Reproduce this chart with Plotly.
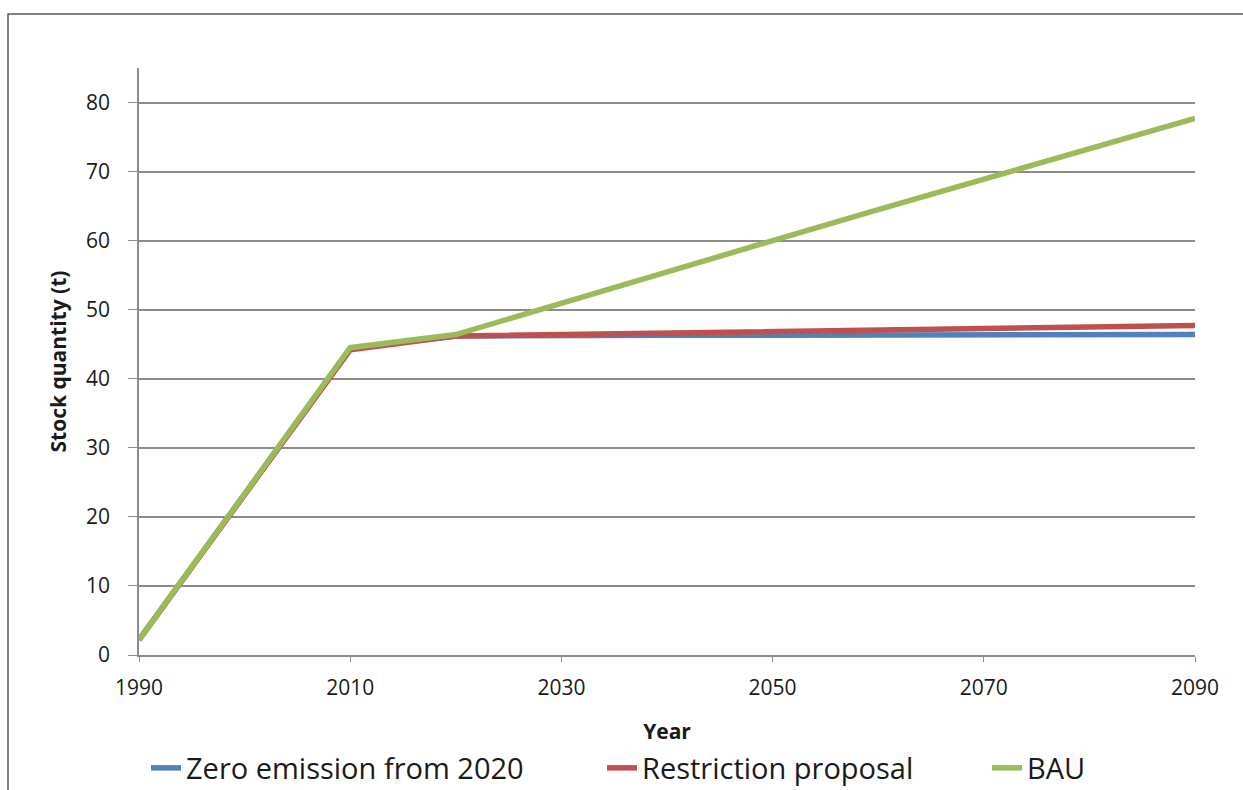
import plotly.graph_objects as go

years = [1990, 2000, 2010, 2020, 2030, 2040, 2050, 2060, 2070, 2080, 2090]
zero_emission = [2.2, 23.3, 44.4, 46.2, 46.3, 46.3, 46.3, 46.3, 46.4, 46.4, 46.4]
restriction = [2.2, 23.2, 44.2, 46.2, 46.4, 46.6, 46.8, 47.0, 47.2, 47.4, 47.7]
bau = [2.2, 23.3, 44.5, 46.4, 51.0, 55.5, 60.0, 64.5, 68.9, 73.3, 77.7]

series_names = ["Zero emission from 2020", "Restriction proposal", "BAU"]
colors = ["#4F81BD", "#C0504D", "#9BBB59"]
x_ticks = [1990, 2010, 2030, 2050, 2070, 2090]
y_ticks = [0, 10, 20, 30, 40, 50, 60, 70, 80]

W, H = 1243, 790
L, R, T, B = 139, 48, 68, 135
pw, ph = W - L - R, H - T - B

def px_to_paper_x(px):
    return (px - L) / pw

def px_to_paper_y(py):
    return (H - B - py) / ph

legend_widths = [411, 340, 100]

fig = go.Figure()
for name, vals, col, lw in zip(series_names, [zero_emission, restriction, bau], colors, legend_widths):
    fig.add_trace(go.Scatter(x=years, y=vals, mode="lines", name=name,
                             line=dict(color=col, width=5.5), legendwidth=lw))

font_family = "Open Sans, Liberation Sans, sans-serif"

fig.update_layout(
    width=W, height=H,
    margin=dict(l=L, r=R, t=T, b=B, autoexpand=False),
    paper_bgcolor="white", plot_bgcolor="white",
    font=dict(family=font_family, color="#1a1a1a", size=21),
    xaxis=dict(range=[1990, 2090], tickvals=x_ticks, showgrid=False,
               showline=True, linecolor="#8c8c8c", linewidth=1.5,
               ticks="outside", ticklen=5, tickcolor="#8c8c8c",
               tickfont=dict(size=21), ticklabelstandoff=8,
               title=dict(text="<b>Year</b>", font=dict(size=21), standoff=24),
               zeroline=False),
    yaxis=dict(range=[0, 85], tickvals=y_ticks, showgrid=True,
               gridcolor="#8c8c8c", gridwidth=1.5,
               showline=True, linecolor="#8c8c8c", linewidth=1.5,
               ticks="outside", ticklen=9, tickcolor="#8c8c8c",
               tickfont=dict(size=21), ticklabelstandoff=14,
               title=dict(text="<b>Stock quantity (t)</b>", font=dict(size=21), standoff=14),
               zeroline=False),
    legend=dict(orientation="h", x=px_to_paper_x(146), xanchor="left",
                y=px_to_paper_y(768), yanchor="middle",
                font=dict(size=29), bgcolor="rgba(0,0,0,0)", tracegroupgap=0),
    showlegend=True,
)

fig.add_shape(type="rect", xref="paper", yref="paper",
              x0=px_to_paper_x(8), x1=px_to_paper_x(1300),
              y0=px_to_paper_y(850), y1=px_to_paper_y(14),
              line=dict(color="#595959", width=1.5), fillcolor="rgba(0,0,0,0)",
              layer="below")

fig.write_html("out.html")
